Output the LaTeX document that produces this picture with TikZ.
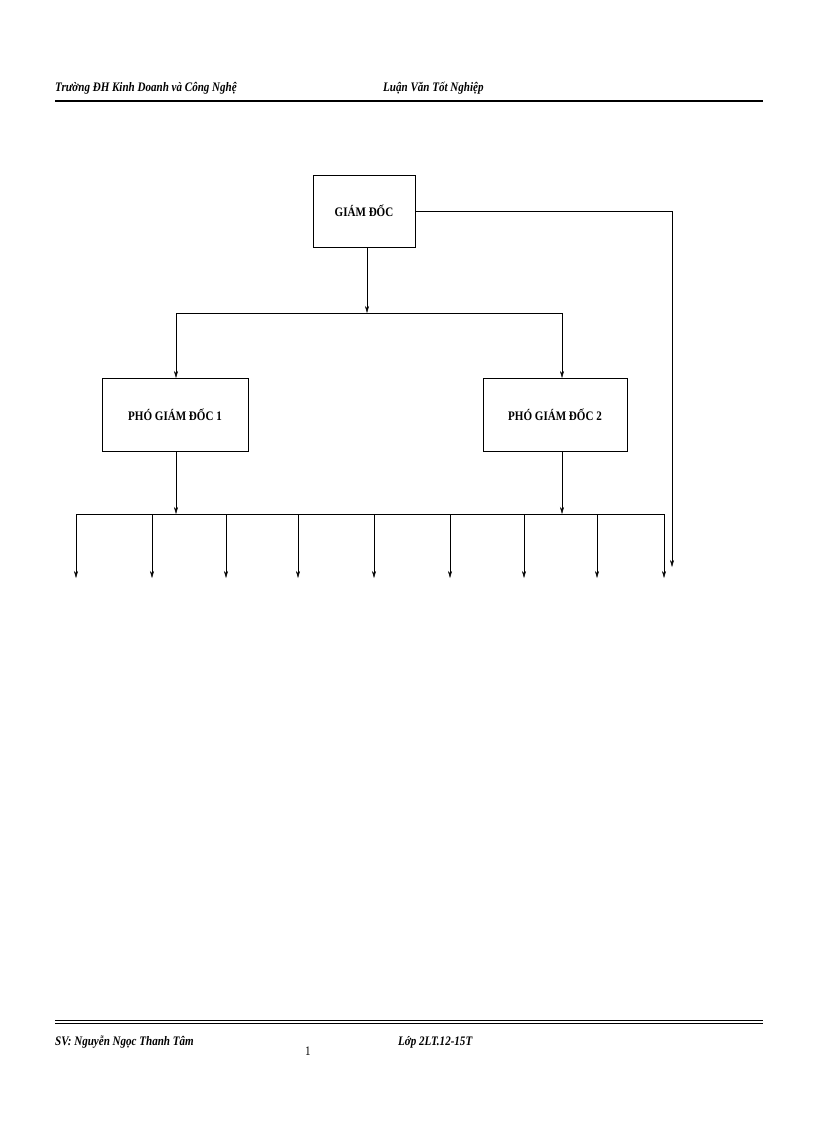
\documentclass[tikz,border=0pt]{standalone}
\usepackage{fontspec}
\setmainfont{Liberation Serif}
\usetikzlibrary{arrows.meta}
\begin{document}
\begin{tikzpicture}[x=1pt,y=-1pt,
  box/.style={draw,thin,font=\bfseries\fontsize{13}{15}\selectfont},
  hdr/.style={font=\bfseries\itshape\fontsize{13}{15}\selectfont,anchor=west,xscale=0.85,inner sep=0},
  arr/.style={-{Stealth[length=7pt,width=4pt]},thin},
  ln/.style={thin}]
\useasboundingbox (0,0) rectangle (816,1123);
\node[hdr] (h1) at (55,88) {Trường ĐH Kinh Doanh và Công Nghệ};
\node[hdr] (h2) at (383,88) {Luận Văn Tốt Nghiệp};
\draw[line width=2.5pt] (55,101) -- (763,101);
\draw[line width=0.8pt] (55,1020) -- (763,1020);
\draw[line width=0.8pt] (55,1023.5) -- (763,1023.5);
\node[hdr] (f1) at (55,1042) {SV: Nguyễn Ngọc Thanh Tâm};
\node[hdr] (f2) at (398,1042) {Lớp 2LT.12-15T};
\node[font=\fontsize{13}{15}\selectfont,xscale=0.85] (pg) at (308,1051) {1};
\node[box,minimum width=102pt,minimum height=72pt,xscale=1] (gd) at (364,211) {\scalebox{0.85}[1]{GIÁM ĐỐC}};
\node[box,minimum width=146pt,minimum height=73pt] (p1) at (175,414.5) {\scalebox{0.85}[1]{PHÓ GIÁM ĐỐC 1}};
\node[box,minimum width=144pt,minimum height=73pt] (p2) at (555,414.5) {\scalebox{0.85}[1]{PHÓ GIÁM ĐỐC 2}};
\coordinate (j) at (367,313);
\draw[arr] (367,247) -- (j);
\draw[ln] (176,313) -- (562,313);
\draw[arr] (176,313) -- (176,378);
\draw[arr] (562,313) -- (562,378);
\draw[arr] (gd.east) -- (672,211) -- (672,567);
\draw[ln] (76,514) -- (664,514);
\draw[arr] (176,451) -- (176,514);
\draw[arr] (562,451) -- (562,514);
\foreach \x in {76,152,226,298,374,450,524,597,664}
  \draw[arr] (\x,514) -- (\x,578);
\end{tikzpicture}
\end{document}
